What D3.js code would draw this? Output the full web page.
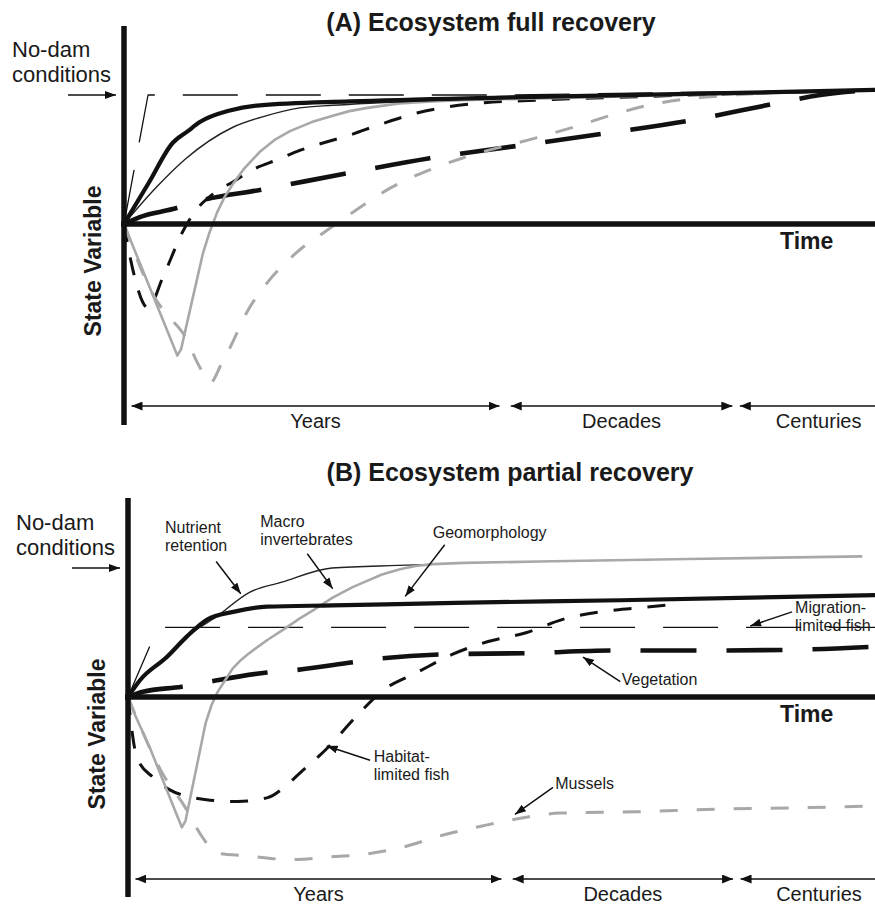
<!DOCTYPE html>
<html>
<head>
<meta charset="utf-8">
<script src="https://cdn.jsdelivr.net/npm/d3@7"></script>
<style>
  html, body { margin: 0; padding: 0; background: #fff; }
  svg { display: block; font-family: "Liberation Sans", Arial, sans-serif; }
</style>
</head>
<body>
<svg id="chart" width="875" height="905"></svg>
<script>
// Time runs 0..100 across each panel; state is relative to the no-dam level (1 = no-dam, 0 = at removal).

// ---- Panel A: ecosystem full recovery ----
const fullNutrient   = [[0,0],[3.3,0.32],[6.5,0.63],[8.5,0.72],[10.1,0.79],[14.1,0.88],[18.1,0.92],[30.1,0.95],[50.1,0.98],[76.7,1.01],[100,1.04]];
const fullMacroinv   = [[0,0],[4.4,0.29],[8.1,0.5],[14.5,0.75],[19,0.84],[23.4,0.9],[27.8,0.92],[34,0.94],[50.1,0.98],[76.7,1.01],[100,1.04]];
const fullGeomorph   = [[0,0],[7.1,-1.02],[7.6,-0.97],[10.5,-0.23],[11.3,-0.08],[12.4,0.09],[13.4,0.21],[14.5,0.31],[16,0.43],[18.1,0.56],[20,0.65],[22.1,0.72],[25,0.79],[27.8,0.84],[30,0.875],[32.4,0.9],[36.7,0.935],[41,0.95],[45,0.96],[60,0.98],[80,1.01],[100,1.04]];
const fullMigration  = [[0,0],[3.2,1.0],[50,1.0],[100,1.04]];
const fullVegetation = [[0,0],[2.1,0.054],[6.5,0.116],[10.5,0.186],[18.1,0.264],[29.2,0.388],[40.7,0.51],[52.3,0.605],[63.6,0.698],[75,0.798],[86.4,0.93],[92.7,1.0],[100,1.04]];
const fullHabitat    = [[0,0],[1.2,-0.36],[3.2,-0.65],[5.2,-0.41],[7.9,-0.05],[9.5,0.1],[12,0.24],[14.6,0.33],[17.1,0.42],[20.5,0.5],[23.4,0.57],[30.1,0.69],[34.5,0.78],[39,0.86],[43.4,0.91],[48,0.94],[55,0.96],[70,0.99],[100,1.04]];
const fullMussels    = [[0,0],[4.4,-0.6],[6,-0.72],[8,-0.86],[10,-1.1],[11.5,-1.23],[13,-1.08],[14.1,-0.96],[16.4,-0.68],[19,-0.46],[23,-0.22],[27,-0.05],[31.2,0.12],[35.5,0.28],[40.7,0.42],[45,0.51],[55,0.67],[59.8,0.75],[64.7,0.84],[69.8,0.92],[76.7,0.98],[100,1.04]];

// ---- Panel B: ecosystem partial recovery ----
const partNutrient   = [[0,0],[1.6,0.13],[5.2,0.31],[7.9,0.47],[11.8,0.62],[16.2,0.81],[20.6,0.89],[27.3,1.0],[36.1,1.02],[42,1.03]];
const partMacroinv   = [[0,-0.02],[2.9,-0.39],[7.2,-1.01],[7.7,-0.96],[10.4,-0.2],[11.2,-0.06],[12,0.04],[13,0.13],[14,0.22],[15,0.28],[16,0.33],[18.6,0.44],[21,0.53],[23,0.61],[25,0.68],[27.4,0.77],[30,0.85],[32,0.9],[34,0.95],[36.4,0.99],[38.5,1.015],[40.8,1.03],[45,1.04],[55,1.05],[75,1.07],[98.3,1.09]];
const partGeomorph   = [[0,0],[1.6,0.13],[5.2,0.31],[7.9,0.47],[10.6,0.6],[14.1,0.66],[18.6,0.7],[27.4,0.71],[43.8,0.73],[65.9,0.75],[100,0.79]];
const partMigration  = [[0,0],[4,0.54],[100,0.54]];
const partVegetation = [[0,0],[2,0.04],[7.2,0.08],[11,0.12],[18.6,0.19],[22.6,0.21],[30.1,0.27],[34.1,0.3],[41.8,0.33],[53.4,0.34],[64.9,0.36],[76.6,0.36],[88.2,0.365],[100,0.39]];
const partHabitat    = [[0,0],[1.2,-0.47],[3.3,-0.62],[5.6,-0.72],[8.7,-0.78],[11,-0.8],[14.7,-0.81],[18.7,-0.78],[20.7,-0.71],[23,-0.59],[26.8,-0.39],[30.4,-0.16],[34.1,0.05],[38.7,0.19],[43.4,0.33],[48.2,0.43],[53.4,0.5],[58.1,0.6],[63.2,0.66],[68.3,0.69],[73.6,0.72]];
const partMussels    = [[0,0],[4.6,-0.59],[7.6,-0.85],[10,-1.09],[11.9,-1.21],[15.7,-1.23],[21.7,-1.26],[27,-1.24],[31.5,-1.22],[36.4,-1.17],[42.2,-1.07],[47.4,-1.0],[52.5,-0.94],[57.8,-0.9],[68.1,-0.89],[78.6,-0.87],[88.9,-0.86],[99.1,-0.845]];

// Time-scale spans shown under each panel
const spanLabels = ["Years", "Decades", "Centuries"];
const spanStart  = [1, 51.5, 82];
const spanEnd    = [50, 81, 103];

// Labels of panel B: text lines, text anchor point, arrow tail and arrow tip
const noteText = [["Nutrient","retention"],["Macro","invertebrates"],["Geomorphology"],["Migration-","limited fish"],["Vegetation"],["Habitat-","limited fish"],["Mussels"]];
const noteAt   = [[4.95,1.27],[17.7,1.32],[40.8,1.23],[89.3,0.65],[66.1,0.09],[32.9,-0.5],[57.2,-0.71]];
const noteTail = [[11.8,1.05],[24,1.11],[42.4,1.18],[88.9,0.66],[65.9,0.12],[32.4,-0.49],[56.9,-0.7]];
const noteTip  = [[15.1,0.8],[27.4,0.84],[37.1,0.78],[83.3,0.55],[60.9,0.31],[26.6,-0.38],[51.8,-0.91]];

const styles = {
  thick:      { stroke: "#111",    width: 4.2, dash: null,    curve: d3.curveMonotoneX },
  thin:       { stroke: "#222",    width: 1.4, dash: null,    curve: d3.curveMonotoneX },
  gray:       { stroke: "#a8a8a8", width: 2.6, dash: null,    curve: d3.curveLinear },
  migration:  { stroke: "#111",    width: 1.3, dash: "55,28", curve: d3.curveLinear },
  vegetation: { stroke: "#111",    width: 4.6, dash: "56,30", curve: d3.curveMonotoneX },
  habitat:    { stroke: "#111",    width: 3,   dash: "18,16", curve: d3.curveMonotoneX },
  mussels:    { stroke: "#a8a8a8", width: 3,   dash: "18,19", curve: d3.curveMonotoneX }
};

const svg = d3.select("#chart");
svg.append("rect").attr("width", 875).attr("height", 905).attr("fill", "#fff");

const defs = svg.append("defs");
function addHead(id, len, wid) {
  defs.append("marker")
    .attr("id", id)
    .attr("viewBox", `0 0 ${len} ${wid}`)
    .attr("refX", len).attr("refY", wid / 2)
    .attr("markerWidth", len).attr("markerHeight", wid)
    .attr("markerUnits", "userSpaceOnUse")
    .attr("orient", "auto-start-reverse")
    .append("path")
    .attr("d", `M0,0 L${len},${wid / 2} L0,${wid} Z`)
    .attr("fill", "#111");
}
addHead("headBig", 11, 9);
addHead("headSmall", 11, 8);

const TXT = "#1a1a1a";

function drawPanel(p) {
  const g = svg.append("g");
  const x = p.x, y = p.y;
  const line = (st) => d3.line().x(d => x(d[0])).y(d => y(d[1])).curve(st.curve);

  p.series.forEach(s => {
    const st = styles[s.style];
    g.append("path")
      .attr("d", line(st)(s.data))
      .attr("fill", "none")
      .attr("stroke", st.stroke)
      .attr("stroke-width", st.width)
      .attr("stroke-dasharray", st.dash)
      .attr("stroke-linejoin", "round");
  });

  // axes
  g.append("line").attr("x1", x(0)).attr("x2", x(0))
    .attr("y1", p.axisTop).attr("y2", p.axisBottom)
    .attr("stroke", "#111").attr("stroke-width", 5.5);
  g.append("line").attr("x1", x(0) - 3).attr("x2", 875)
    .attr("y1", y(0)).attr("y2", y(0))
    .attr("stroke", "#111").attr("stroke-width", 5.5);

  // title
  g.append("text").attr("x", p.titleX).attr("y", p.titleY)
    .attr("text-anchor", "middle").attr("font-size", 25).attr("font-weight", "bold")
    .attr("fill", TXT).text(p.title);

  // no-dam marker
  g.append("text").attr("x", p.noDamX).attr("y", y(1) - 38)
    .attr("font-size", 22).attr("fill", TXT).text("No-dam");
  g.append("text").attr("x", p.noDamX).attr("y", y(1) - 13)
    .attr("font-size", 22).attr("fill", TXT).text("conditions");
  g.append("line").attr("x1", x(0) - 56).attr("x2", x(0) - 8)
    .attr("y1", y(1)).attr("y2", y(1))
    .attr("stroke", "#111").attr("stroke-width", 1.5)
    .attr("marker-end", "url(#headSmall)");

  // axis titles
  g.append("text").attr("x", 780).attr("y", y(0) + 25)
    .attr("font-size", 23).attr("font-weight", "bold").attr("fill", TXT).text("Time");
  g.append("text")
    .attr("transform", `translate(${x(0) - 23},${y(0) + 37}) rotate(-90)`)
    .attr("text-anchor", "middle").attr("font-size", 23).attr("font-weight", "bold")
    .attr("fill", TXT).text("State Variable");

  // time-scale spans
  spanLabels.forEach((lab, i) => {
    g.append("line").attr("x1", x(spanStart[i])).attr("x2", x(spanEnd[i]))
      .attr("y1", p.spanY).attr("y2", p.spanY)
      .attr("stroke", "#111").attr("stroke-width", 1.5)
      .attr("marker-start", "url(#headBig)").attr("marker-end", "url(#headBig)");
    g.append("text").attr("x", x((spanStart[i] + spanEnd[i]) / 2)).attr("y", p.spanY + 22)
      .attr("text-anchor", "middle").attr("font-size", 20).attr("fill", TXT).text(lab);
  });

  if (p.notes) {
    noteText.forEach((lines, i) => {
      g.append("line")
        .attr("x1", x(noteTail[i][0])).attr("y1", y(noteTail[i][1]))
        .attr("x2", x(noteTip[i][0])).attr("y2", y(noteTip[i][1]))
        .attr("stroke", "#111").attr("stroke-width", 1.5)
        .attr("marker-end", "url(#headSmall)");
      lines.forEach((t, j) => {
        g.append("text").attr("x", x(noteAt[i][0])).attr("y", y(noteAt[i][1]) + j * 18)
          .attr("font-size", 16).attr("fill", TXT).text(t);
      });
    });
  }
}

drawPanel({
  x: d3.scaleLinear().domain([0, 100]).range([124, 875]),
  y: d3.scaleLinear().domain([0, 1]).range([224, 95]),
  axisTop: 26, axisBottom: 425,
  title: "(A) Ecosystem full recovery", titleX: 491, titleY: 31,
  noDamX: 12, spanY: 406,
  series: [
    { data: fullVegetation, style: "vegetation" },
    { data: fullHabitat,    style: "habitat" },
    { data: fullMussels,    style: "mussels" },
    { data: fullGeomorph,   style: "gray" },
    { data: fullMigration,  style: "migration" },
    { data: fullMacroinv,   style: "thin" },
    { data: fullNutrient,   style: "thick" }
  ]
});

drawPanel({
  x: d3.scaleLinear().domain([0, 100]).range([128, 875]),
  y: d3.scaleLinear().domain([0, 1]).range([697, 568]),
  axisTop: 498, axisBottom: 897,
  title: "(B) Ecosystem partial recovery", titleX: 510, titleY: 481,
  noDamX: 16, spanY: 879,
  notes: true,
  series: [
    { data: partVegetation, style: "vegetation" },
    { data: partHabitat,    style: "habitat" },
    { data: partMussels,    style: "mussels" },
    { data: partMigration,  style: "migration" },
    { data: partNutrient,   style: "thin" },
    { data: partMacroinv,   style: "gray" },
    { data: partGeomorph,   style: "thick" }
  ]
});
</script>
</body>
</html>
